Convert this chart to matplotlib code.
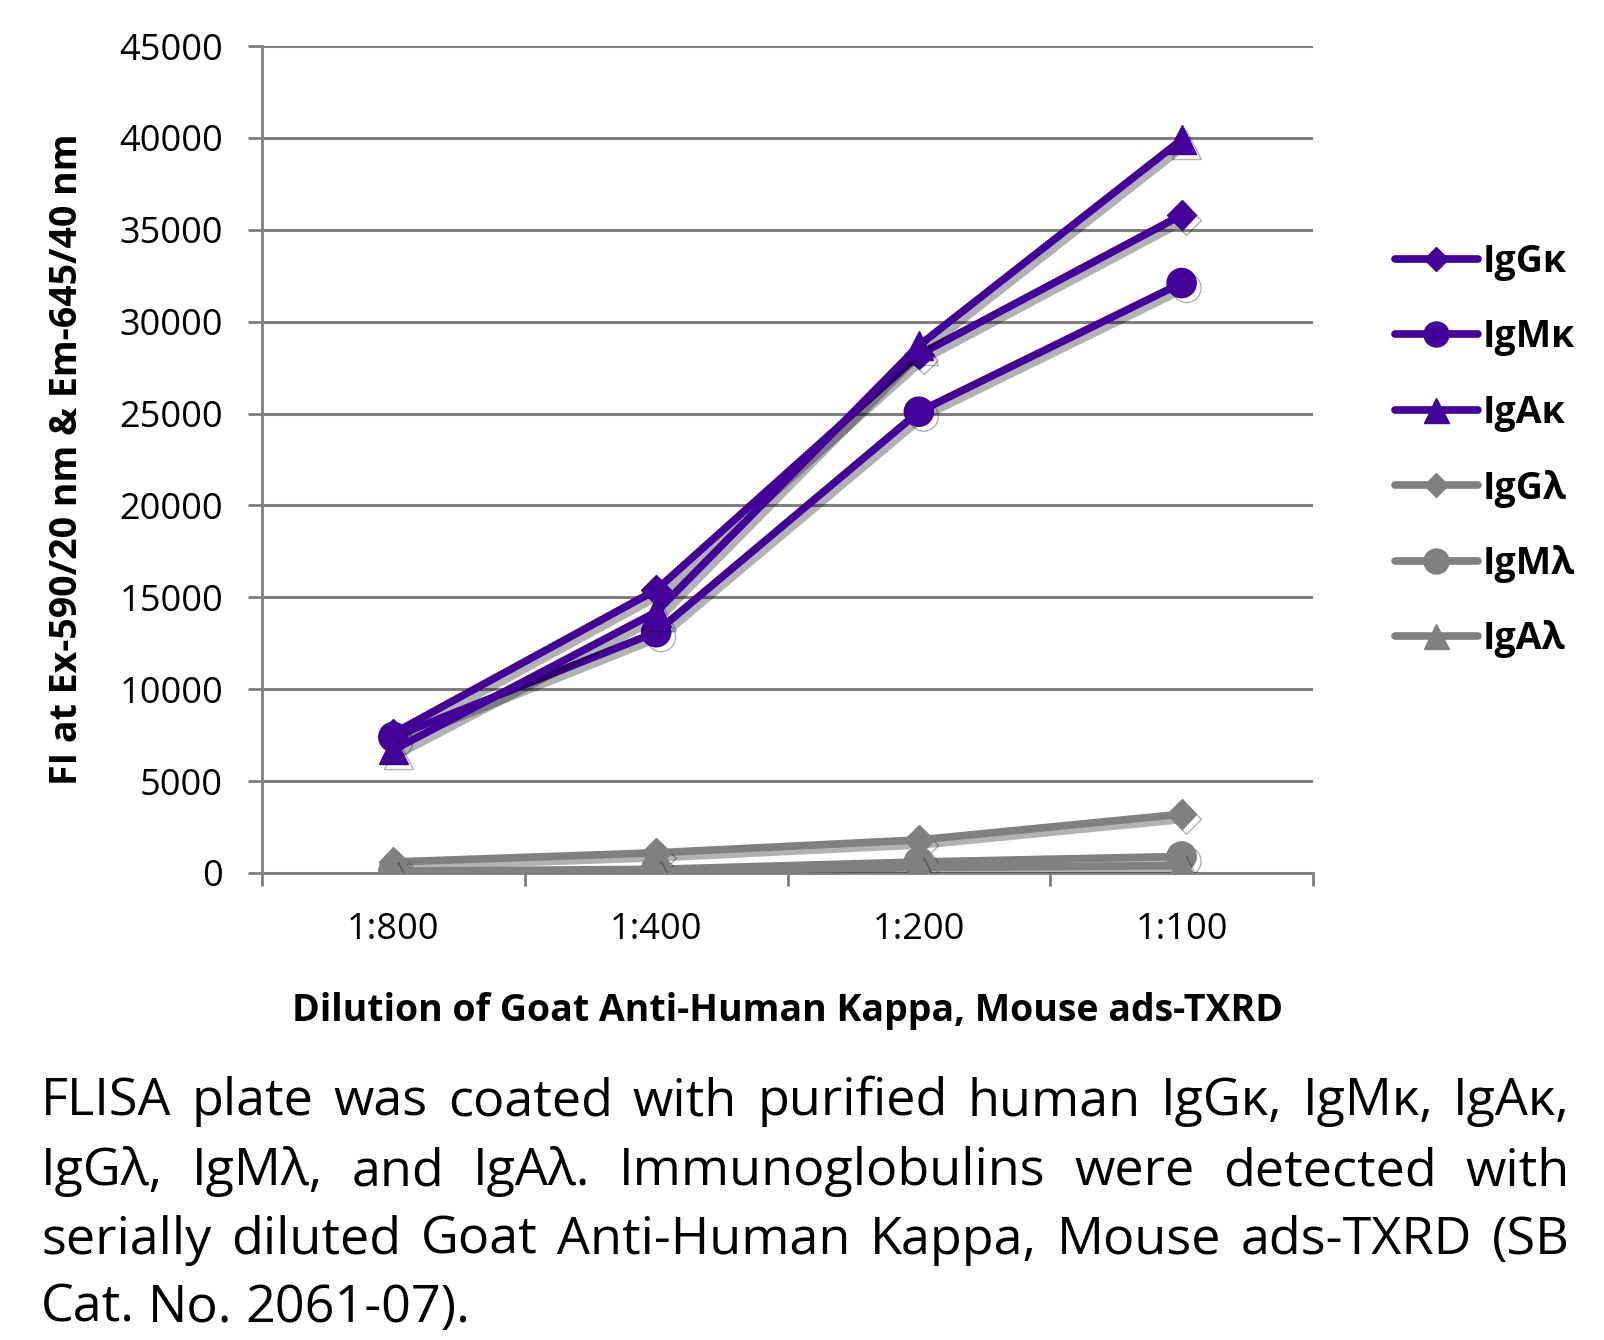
import matplotlib
matplotlib.use("Agg")
import matplotlib.pyplot as plt
import matplotlib.patheffects as pe
from matplotlib.lines import Line2D

# ---- data ----
dilutions = ["1:800", "1:400", "1:200", "1:100"]
series_names = ["IgGκ", "IgMκ", "IgAκ", "IgGλ", "IgMλ", "IgAλ"]
igg_k = [7600, 15400, 28200, 35800]
igm_k = [7400, 13100, 25100, 32100]
iga_k = [6700, 14200, 28700, 39900]
igg_l = [600, 1100, 1800, 3200]
igm_l = [100, 200, 600, 900]
iga_l = [50, 100, 300, 400]
y_ticks = [0, 5000, 10000, 15000, 20000, 25000, 30000, 35000, 40000, 45000]

xlabel = "Dilution of Goat Anti-Human Kappa, Mouse ads-TXRD"
ylabel = "FI at Ex-590/20 nm & Em-645/40 nm"
caption_lines = [
    "FLISA plate was coated with purified human IgGκ, IgMκ, IgAκ,",
    "IgGλ, IgMλ, and IgAλ.  Immunoglobulins were detected with",
    "serially diluted Goat Anti-Human Kappa, Mouse ads-TXRD (SB",
    "Cat. No. 2061-07).",
]

PURPLE = "#430099"
GRAY = "#808080"
FONT = ["Open Sans", "DejaVu Sans"]
plt.rcParams["font.family"] = FONT

W, H = 1604, 1340
fig = plt.figure(figsize=(W / 100, H / 100), dpi=100)
ax = fig.add_axes([262 / W, 1 - 873 / H, (1313 - 262) / W, (873 - 46) / H])

data = [igg_k, igm_k, iga_k, igg_l, igm_l, iga_l]
colors = [PURPLE] * 3 + [GRAY] * 3
markers = ["D", "o", "^"] * 2
msizes = [15, 21, 21] * 2
x = list(range(len(dilutions)))
shadow = [pe.SimpleLineShadow(offset=(3.5, -3.5), shadow_color="black", alpha=0.3), pe.Normal()]
handles = []
for vals, c, m, ms, name in zip(data, colors, markers, msizes, series_names):
    ax.plot(x, vals, color=c, lw=5.5, marker=m, ms=ms, mec=c, mfc=c,
            solid_capstyle="round", path_effects=shadow, zorder=3)
    handles.append(Line2D([0], [0], color=c, lw=5.5, marker=m, ms=ms - 3, mec=c, mfc=c,
                          solid_capstyle="round", label=name))

ax.set_xlim(-0.5, len(dilutions) - 0.5)
ax.set_ylim(0, 45000)
ax.set_yticks(y_ticks)
ax.set_yticklabels([str(v) for v in y_ticks])
ax.set_xticks([i - 0.5 for i in range(len(dilutions) + 1)], minor=False)
ax.set_xticklabels([""] * (len(dilutions) + 1))
ax.set_xticks(x, minor=True)
ax.set_xticklabels(dilutions, minor=True)
ax.tick_params(axis="x", which="major", length=9, width=2, color=GRAY, direction="out")
ax.tick_params(axis="x", which="minor", length=0, pad=28, labelsize=26)
ax.tick_params(axis="y", length=10, width=2, color=GRAY, pad=18, labelsize=26)
ax.grid(axis="y", color=GRAY, lw=2.2, zorder=0)
ax.set_axisbelow(True)
for s in ["top", "right"]:
    ax.spines[s].set_visible(False)
ax.spines["left"].set_color(GRAY)
ax.spines["left"].set_linewidth(2)
ax.spines["bottom"].set_color(GRAY)
ax.spines["bottom"].set_linewidth(2)

ax.set_xlabel(xlabel, fontsize=27, fontweight="bold", labelpad=32)
ax.set_ylabel(ylabel, fontsize=27, fontweight="bold", labelpad=24)

fig.legend(handles=handles, loc="upper left", bbox_to_anchor=(1380 / W, 1 - 228 / H),
           frameon=False, prop={"size": 27, "weight": "bold"}, handlelength=2.2,
           handletextpad=0.15, labelspacing=1.0, borderaxespad=0)

# ---- justified caption ----
renderer = fig.canvas.get_renderer()
left_px, right_px = 41, 1570
base_y = [1115, 1185, 1254, 1322]
fs = 39

def word_widths(words, size):
    ws = []
    for w in words:
        t = fig.text(0, 0, w, fontsize=size)
        ws.append(t.get_window_extent(renderer).width)
        t.remove()
    return ws

sp = fig.text(0, 0, "a a", fontsize=fs)
sp_w = sp.get_window_extent(renderer).width
sp.remove()
a = fig.text(0, 0, "aa", fontsize=fs)
space_w = sp_w - a.get_window_extent(renderer).width
a.remove()
maxw = 0
for line in caption_lines:
    words = line.split()
    maxw = max(maxw, sum(word_widths(words, fs)) + space_w * (len(words) - 1))
if maxw > right_px - left_px:
    fs = fs * (right_px - left_px) / maxw * 0.97
    space_w = space_w * 0.97

for i, line in enumerate(caption_lines):
    words = line.split()
    ws = word_widths(words, fs)
    last = i == len(caption_lines) - 1
    if last or len(words) == 1:
        gap = space_w * fs / 39
    else:
        gap = (right_px - left_px - sum(ws)) / (len(words) - 1)
    xp = left_px
    for w, ww in zip(words, ws):
        fig.text(xp / W, 1 - base_y[i] / H, w, fontsize=fs, ha="left", va="baseline")
        xp += ww + gap

fig.savefig("out.png", dpi=100)
